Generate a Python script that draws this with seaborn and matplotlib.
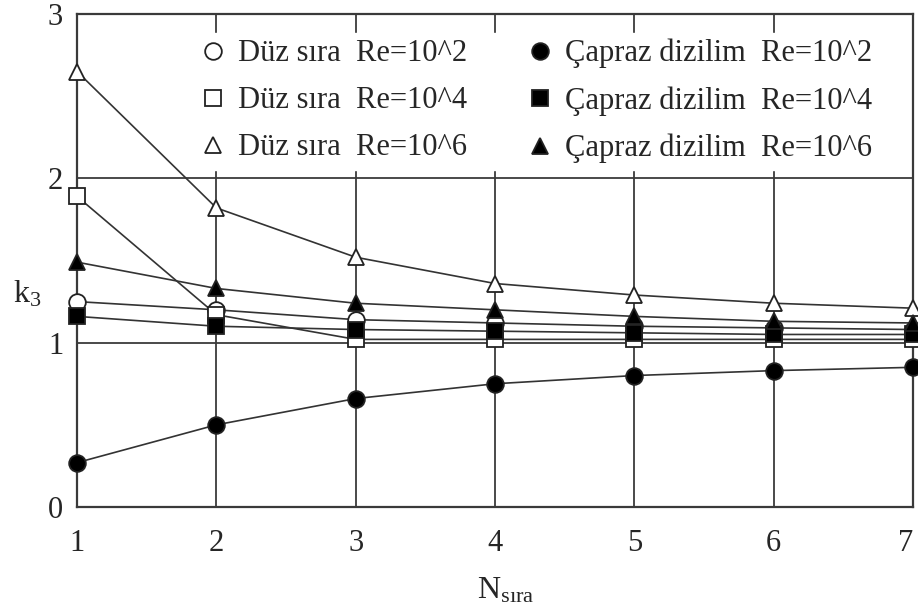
import pandas as pd
import matplotlib
matplotlib.use("Agg")
import matplotlib.pyplot as plt
import seaborn as sns

# veriler
n_sira = [1, 2, 3, 4, 5, 6, 7]

duz_re2 = [1.25, 1.20, 1.14, 1.12, 1.10, 1.09, 1.08]
duz_re4 = [1.89, 1.17, 1.02, 1.02, 1.02, 1.02, 1.02]
duz_re6 = [2.65, 1.82, 1.52, 1.36, 1.29, 1.24, 1.21]
capraz_re2 = [0.27, 0.50, 0.66, 0.75, 0.80, 0.83, 0.85]
capraz_re4 = [1.16, 1.10, 1.08, 1.07, 1.06, 1.05, 1.05]
capraz_re6 = [1.49, 1.33, 1.24, 1.20, 1.16, 1.13, 1.12]

labels = ["Düz sıra  Re=10^2", "Düz sıra  Re=10^4", "Düz sıra  Re=10^6",
          "Çapraz dizilim  Re=10^2", "Çapraz dizilim  Re=10^4", "Çapraz dizilim  Re=10^6"]
series = [duz_re2, duz_re4, duz_re6, capraz_re2, capraz_re4, capraz_re6]
markers = ["o", "s", "^", "o", "s", "^"]
faces = ["white", "white", "white", "black", "black", "black"]

sns.set_style("white")
plt.rcParams["font.family"] = ["Liberation Serif", "DejaVu Serif"]
plt.rcParams["mathtext.fontset"] = "custom"
plt.rcParams["mathtext.rm"] = "Liberation Serif"
plt.rcParams["mathtext.it"] = "Liberation Serif"

fig, ax = plt.subplots(figsize=(9.18, 6.12), dpi=100)
fig.subplots_adjust(left=0.084, right=0.9946, bottom=0.1716, top=0.977)

line_col = "#333333"
for lab, vals, m, fc in zip(labels, series, markers, faces):
    df = pd.DataFrame({"N": n_sira, "k3": vals})
    sns.lineplot(data=df, x="N", y="k3", ax=ax, color=line_col, lw=1.2,
                 marker=m, markersize=12 if m != "s" else 11,
                 markerfacecolor=fc, markeredgecolor="#222222",
                 markeredgewidth=1.3, label=lab, clip_on=False, zorder=3)

ax.set_xlim(1, 7)
ax.set_ylim(0, 3)
ax.set_xticks(n_sira)
ax.set_yticks([0, 1, 2, 3])
ax.grid(True, color="#3a3a3a", lw=1.3, zorder=0)
ax.set_axisbelow(True)
for s in ax.spines.values():
    s.set_color("#3a3a3a")
    s.set_linewidth(1.6)

ax.tick_params(axis="x", length=0, pad=16, labelsize=22)
ax.tick_params(axis="y", length=0, pad=10, labelsize=22)
ax.get_xticklabels()[-1].set_horizontalalignment("right")
ax.set_xlabel(r"N$_{\mathrm{sıra}}$", fontsize=23)
ax.xaxis.set_label_coords(0.513, -0.14)
ax.set_ylabel(r"k$_3$", fontsize=23, rotation=0)
ax.yaxis.set_label_coords(-0.06, 0.40)

leg = ax.legend(loc="upper left", bbox_to_anchor=(0.119, 0.993), ncol=2,
                frameon=True, fontsize=22, handlelength=1.0, handletextpad=0.3,
                columnspacing=1.9, labelspacing=0.59, borderpad=0.2)
frame = leg.get_frame()
frame.set_facecolor("white")
frame.set_edgecolor("white")
frame.set_alpha(1)
leg.set_zorder(10)
for h in leg.legend_handles:
    h.set_linestyle("none")

plt.savefig("out.png", dpi=100)
